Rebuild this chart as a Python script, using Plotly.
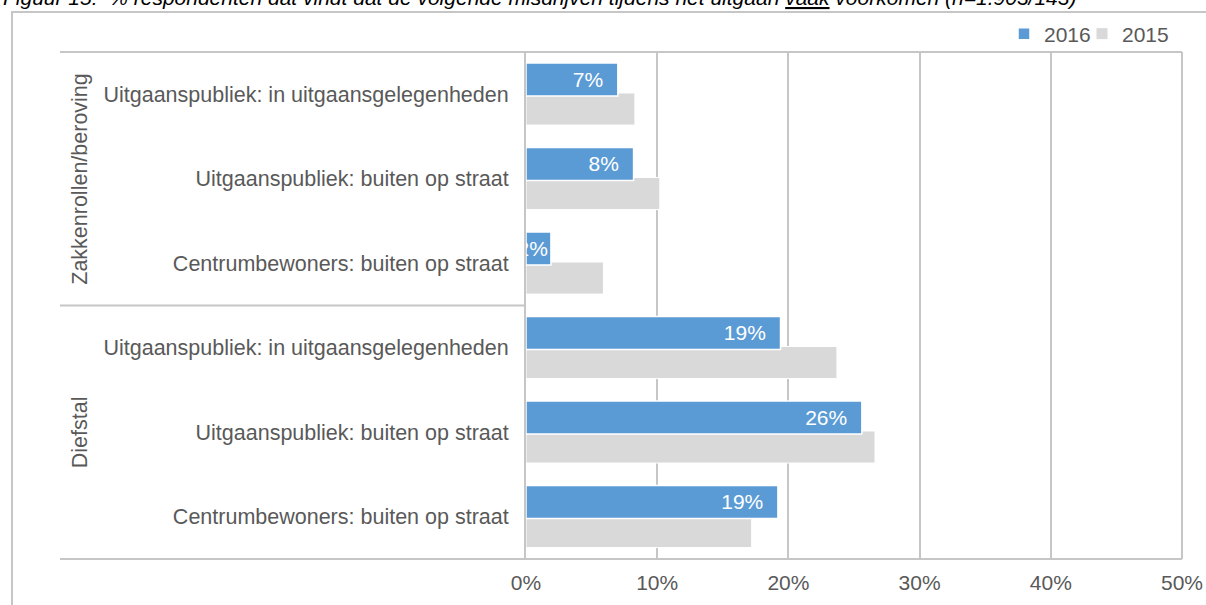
import plotly.graph_objects as go

# ---- data ----
groups = ["Zakkenrollen/beroving", "Diefstal"]
categories = [
    "Uitgaanspubliek: in uitgaansgelegenheden",
    "Uitgaanspubliek: buiten op straat",
    "Centrumbewoners: buiten op straat",
    "Uitgaanspubliek: in uitgaansgelegenheden",
    "Uitgaanspubliek: buiten op straat",
    "Centrumbewoners: buiten op straat",
]
values_2016 = [7.0, 8.2, 1.9, 19.4, 25.6, 19.2]
values_2015 = [8.3, 10.2, 5.9, 23.7, 26.6, 17.2]
x_ticks = [0, 10, 20, 30, 40, 50]
x_ticktext = ["0%", "10%", "20%", "30%", "40%", "50%"]
title_text = ("Figuur 15:  % respondenten dat vindt dat de volgende misdrijven tijdens het uitgaan "
              "<u>vaak</u> voorkomen (n=1.903/143)")

# ---- layout geometry (pixels) ----
W, H = 1206, 605
ML, MR, MT, MB = 526, 20, 52, 46
PW = W - ML - MR
PH = H - MT - MB
XMAX = 50 * PW / 656.0

def px_x(p):
    return (p - ML) / PW

def px_y(p):
    return (H - MB - p) / PH

FONT = "Liberation Sans, Arial, sans-serif"
GREY_TXT = "#595959"
LINE = "#C6C6C6"
FS = 21.5

ypos = list(range(len(categories)))
label_tpl = ["%{x:.0f}%" + ("\u00a0\u00a0" if v >= 5 else "") for v in values_2016]

fig = go.Figure()
fig.add_trace(go.Bar(
    name="2015", y=ypos, x=values_2015, orientation="h",
    marker=dict(color="#D9D9D9", line=dict(color="white", width=1)),
    offset=-0.015, width=0.38, legend="legend2", hoverinfo="skip",
))
fig.add_trace(go.Bar(
    name="2016", y=ypos, x=values_2016, orientation="h",
    marker=dict(color="#5B9BD5", line=dict(color="white", width=1.5)),
    offset=-0.37, width=0.39, legend="legend",
    texttemplate=label_tpl, textposition="inside", textangle=0,
    insidetextanchor="end", constraintext="none",
    textfont=dict(color="white", size=21, family=FONT), hoverinfo="skip",
))

shapes = [
    dict(type="rect", xref="paper", yref="paper", x0=px_x(12), x1=px_x(1230),
         y0=px_y(12), y1=px_y(640), line=dict(color=LINE, width=2)),
    dict(type="line", xref="paper", yref="paper", x0=px_x(60), x1=px_x(1182),
         y0=1, y1=1, line=dict(color=LINE, width=2)),
    dict(type="line", xref="paper", yref="paper", x0=px_x(60), x1=px_x(1182),
         y0=0, y1=0, line=dict(color=LINE, width=2)),
    dict(type="line", xref="paper", yref="y", x0=px_x(60), x1=0,
         y0=2.5, y1=2.5, line=dict(color=LINE, width=2)),
]

annotations = [
    dict(text=title_text, xref="paper", yref="paper", x=px_x(1), y=px_y(-2.5),
         xanchor="left", yanchor="middle", showarrow=False,
         font=dict(family=FONT, size=21, color="black", style="italic")),
    dict(text=groups[0], xref="paper", yref="y", x=px_x(80), y=1,
         xanchor="center", yanchor="middle", textangle=-90, showarrow=False,
         font=dict(family=FONT, size=FS, color=GREY_TXT)),
    dict(text=groups[1], xref="paper", yref="y", x=px_x(80), y=4,
         xanchor="center", yanchor="middle", textangle=-90, showarrow=False,
         font=dict(family=FONT, size=FS, color=GREY_TXT)),
]

legend_common = dict(orientation="h", yanchor="middle", y=px_y(34), xanchor="right",
                     font=dict(family=FONT, size=21, color=GREY_TXT),
                     bgcolor="rgba(0,0,0,0)", itemwidth=30)

fig.update_layout(
    width=W, height=H,
    margin=dict(l=ML, r=MR, t=MT, b=MB, autoexpand=False),
    paper_bgcolor="white", plot_bgcolor="white",
    barmode="overlay",
    font=dict(family=FONT, size=21, color=GREY_TXT),
    showlegend=True,
    legend=dict(x=px_x(1096), **legend_common),
    legend2=dict(x=px_x(1174), **legend_common),
    shapes=shapes,
    annotations=annotations,
)
fig.update_xaxes(
    range=[0, XMAX], tickvals=x_ticks, ticktext=x_ticktext,
    showgrid=True, gridcolor=LINE, gridwidth=2, zeroline=False, showline=False,
    ticks="", ticklabelstandoff=9,
    tickfont=dict(family=FONT, size=21, color=GREY_TXT),
)
fig.update_yaxes(
    range=[len(categories) - 0.5, -0.5], tickvals=ypos, ticktext=categories,
    showgrid=False, zeroline=False, showline=True, linecolor=LINE, linewidth=2,
    ticks="", ticklabelstandoff=11,
    tickfont=dict(family=FONT, size=FS, color=GREY_TXT),
)

fig.write_html("out.html", config={"displayModeBar": False},
               post_script="document.body.style.margin='0';document.body.style.padding='0';")
